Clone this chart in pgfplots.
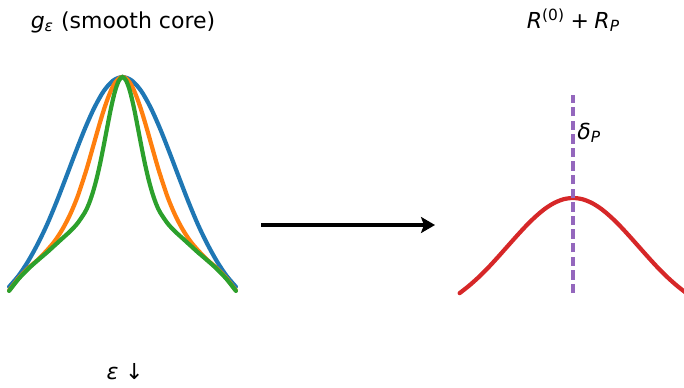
\documentclass[border=0pt]{standalone}
\usepackage{fontspec}
\setmainfont{DejaVu Sans}
\usepackage{pgfplots}
\pgfplotsset{compat=1.18}
\usetikzlibrary{arrows.meta}
\definecolor{tabblue}{HTML}{1F77B4}
\definecolor{taborange}{HTML}{FF7F0E}
\definecolor{tabgreen}{HTML}{2CA02C}
\definecolor{tabred}{HTML}{D62728}
\definecolor{tabpurple}{HTML}{9467BD}
\begin{document}
\begin{tikzpicture}[every node/.style={font=\fontsize{11pt}{13pt}\selectfont, inner sep=0pt}]
\useasboundingbox (0,0) rectangle (342pt,193.5pt);
% left panel
\begin{axis}[at={(4.55pt,5.5pt)},anchor=south west,scale only axis,
  width=113.4pt,height=161pt,xmin=-3,xmax=3,ymin=-0.3,ymax=1.1,
  hide axis,clip=false]
\addplot[tabblue,line width=2.1pt,smooth,line cap=round] coordinates {
(-3,0.088)(-2.75,0.136)(-2.5,0.198)(-2.25,0.272)(-2,0.357)(-1.75,0.455)(-1.5,0.561)(-1.25,0.669)(-1,0.773)(-0.75,0.865)(-0.5,0.938)(-0.25,0.984)(0,1)
(0.25,0.984)(0.5,0.938)(0.75,0.865)(1,0.773)(1.25,0.669)(1.5,0.561)(1.75,0.455)(2,0.357)(2.25,0.272)(2.5,0.198)(2.75,0.136)(3,0.088)};
\addplot[taborange,line width=2.1pt,smooth,line cap=round] coordinates {
(-3,0.072)(-2.75,0.125)(-2.5,0.168)(-2.25,0.204)(-2,0.246)(-1.8,0.285)(-1.6,0.335)(-1.4,0.397)(-1.2,0.475)(-1,0.573)(-0.9,0.627)(-0.8,0.685)(-0.7,0.743)(-0.6,0.800)(-0.5,0.854)(-0.4,0.902)(-0.3,0.943)(-0.2,0.974)(-0.1,0.993)(0,1)
(0.1,0.993)(0.2,0.974)(0.3,0.943)(0.4,0.902)(0.5,0.854)(0.6,0.800)(0.7,0.743)(0.8,0.685)(0.9,0.627)(1,0.573)(1.2,0.475)(1.4,0.397)(1.6,0.335)(1.8,0.285)(2,0.246)(2.25,0.204)(2.5,0.168)(2.75,0.125)(3,0.072)};
\addplot[tabgreen,line width=2.1pt,smooth,line cap=round] coordinates {
(-3,0.070)(-2.75,0.122)(-2.5,0.165)(-2.25,0.202)(-2,0.237)(-1.8,0.267)(-1.6,0.297)(-1.4,0.327)(-1.2,0.362)(-1,0.410)(-0.9,0.444)(-0.8,0.490)(-0.7,0.548)(-0.6,0.618)(-0.5,0.699)(-0.4,0.785)(-0.3,0.868)(-0.2,0.937)(-0.1,0.983)(0,1)
(0.1,0.983)(0.2,0.937)(0.3,0.868)(0.4,0.785)(0.5,0.699)(0.6,0.618)(0.7,0.548)(0.8,0.490)(0.9,0.444)(1,0.410)(1.2,0.362)(1.4,0.327)(1.6,0.297)(1.8,0.267)(2,0.237)(2.25,0.202)(2.5,0.165)(2.75,0.122)(3,0.070)};
\end{axis}
% right panel
\begin{axis}[at={(229.8pt,15.2pt)},anchor=south west,scale only axis,
  width=113.4pt,height=140.3pt,xmin=-3,xmax=3,ymin=-0.3,ymax=2.0,
  hide axis,clip=false]
\addplot[tabred,line width=2.1pt,smooth,line cap=round] coordinates {
(-3,0.220)(-2.75,0.281)(-2.5,0.350)(-2.25,0.427)(-2,0.511)(-1.75,0.598)(-1.5,0.685)(-1.25,0.769)(-1,0.845)(-0.75,0.910)(-0.5,0.959)(-0.25,0.990)(0,1)
(0.25,0.990)(0.5,0.959)(0.75,0.910)(1,0.845)(1.25,0.769)(1.5,0.685)(1.75,0.598)(2,0.511)(2.25,0.427)(2.5,0.350)(2.75,0.281)(3,0.220)};
\addplot[tabpurple,line width=1.6pt,dash pattern=on 4.7pt off 2.1pt] coordinates {(0,0.22)(0,1.845)};
\end{axis}
% texts
\node[anchor=base] at (61.5pt,179.5pt) {\textit{g}\textsubscript{\textit{ε}} (smooth core)};
\node[anchor=base] at (286.75pt,179.5pt) {\textit{R}\textsuperscript{(0)}\hspace{0.25em}+\hspace{0.25em}\textit{R}\textsubscript{\textit{P}}};
\node[anchor=base west] at (288.5pt,124pt) {\textit{δ}\textsubscript{\textit{P}}};
\node[anchor=base] at (62.5pt,4pt) {\textit{ε}\hspace{0.3em}↓};
\draw[line width=1.7pt,-{Stealth[length=7pt,width=8pt,inset=1.5pt]}] (130.5pt,81pt) -- (217.5pt,81pt);
\end{tikzpicture}
\end{document}
